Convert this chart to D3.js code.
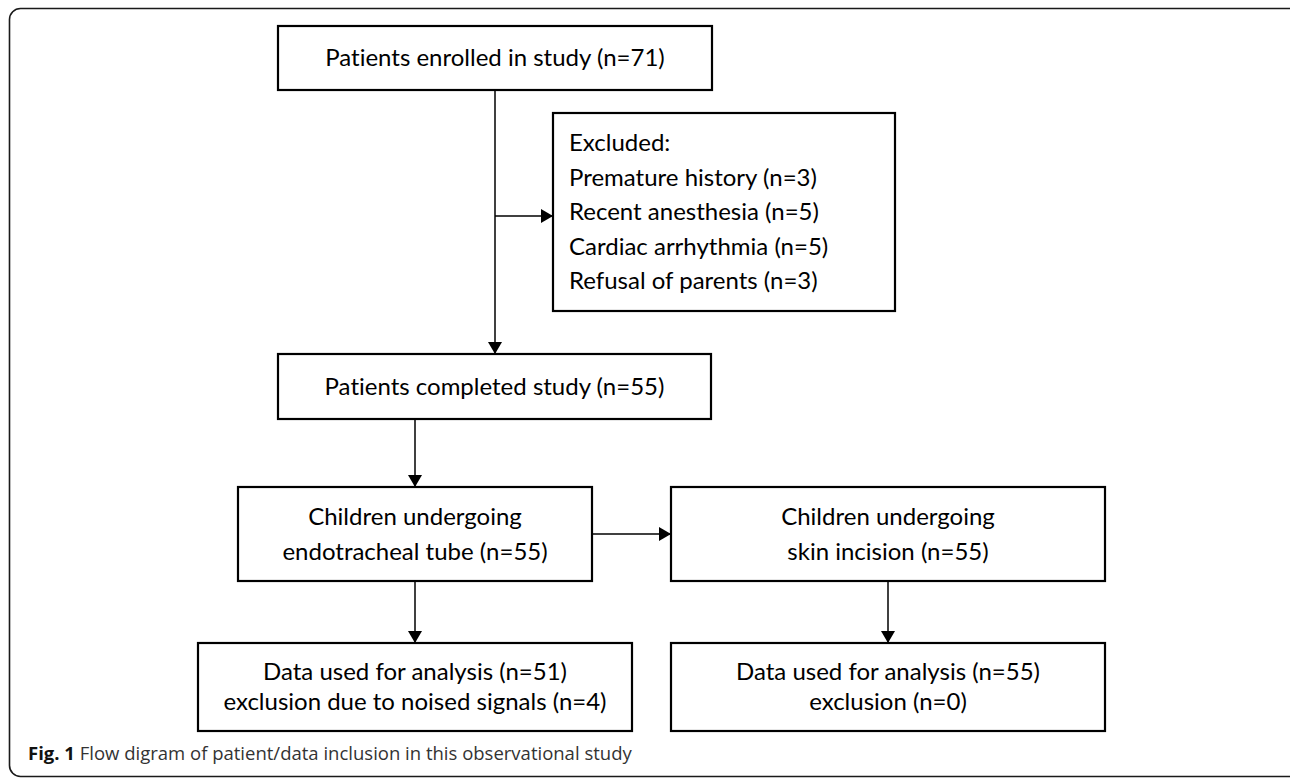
<!DOCTYPE html>
<html>
<head>
<meta charset="utf-8">
<script src="https://cdnjs.cloudflare.com/ajax/libs/d3/7.8.5/d3.min.js"></script>
<style>
  body { margin: 0; background: #fff; }
  #chart { width: 1290px; height: 778px; }
  text { font-variant-ligatures: none; }
</style>
</head>
<body>
<div id="chart"></div>
<script>
// values
const stageNames = [
  ['Patients enrolled in study'],
  ['Patients completed study'],
  ['Children undergoing', 'endotracheal tube'],
  ['Children undergoing', 'skin incision'],
  ['Data used for analysis'],
  ['Data used for analysis']
];
const stageCounts = [71, 55, 55, 55, 51, 55];
const exclusionReasons = ['Premature history', 'Recent anesthesia', 'Cardiac arrhythmia', 'Refusal of parents'];
const exclusionCounts = [3, 5, 5, 3];
const analysisDropNames = ['exclusion due to noised signals', 'exclusion'];
const analysisDropCounts = [4, 0];
const captionLabel = 'Fig. 1';
const captionText = 'Flow digram of patient/data inclusion in this observational study';

// box geometry (pixels)
const layout = {
  enrolled:  {x: 278, y: 26,  w: 434, h: 64},
  excluded:  {x: 553, y: 113, w: 342, h: 198},
  completed: {x: 278, y: 354, w: 433, h: 65},
  tube:      {x: 238, y: 487, w: 354, h: 94},
  skin:      {x: 671, y: 487, w: 434, h: 94},
  dataTube:  {x: 198, y: 643, w: 434, h: 88},
  dataSkin:  {x: 671, y: 643, w: 434, h: 88}
};

const n = c => '(n=' + c + ')';

let boxes = [
  {id: 'enrolled',  lines: [stageNames[0][0] + ' ' + n(stageCounts[0])]},
  {id: 'excluded',  align: 'left',
    lines: ['Excluded:'].concat(exclusionReasons.map((r, i) => r + ' ' + n(exclusionCounts[i])))},
  {id: 'completed', lines: [stageNames[1][0] + ' ' + n(stageCounts[1])]},
  {id: 'tube',      lines: [stageNames[2][0], stageNames[2][1] + ' ' + n(stageCounts[2])], lh: 35},
  {id: 'skin',      lines: [stageNames[3][0], stageNames[3][1] + ' ' + n(stageCounts[3])], lh: 35},
  {id: 'dataTube',  lines: [stageNames[4][0] + ' ' + n(stageCounts[4]), analysisDropNames[0] + ' ' + n(analysisDropCounts[0])], lh: 30},
  {id: 'dataSkin',  lines: [stageNames[5][0] + ' ' + n(stageCounts[5]), analysisDropNames[1] + ' ' + n(analysisDropCounts[1])], lh: 30}
];

let element = document.getElementById('chart');
let width = 1290, height = 778;

let svg = d3.select(element).append('svg')
  .attr('width', width)
  .attr('height', height);

svg.append('defs').append('marker')
  .attr('id', 'tip')
  .attr('markerUnits', 'userSpaceOnUse')
  .attr('viewBox', '0 0 12 14')
  .attr('refX', 12)
  .attr('refY', 7)
  .attr('markerWidth', 12)
  .attr('markerHeight', 14)
  .attr('orient', 'auto')
  .append('path')
    .attr('d', 'M0,0 L12,7 L0,14 Z')
    .attr('fill', '#000');

// outer frame, runs off the right edge
svg.append('rect')
  .attr('x', 9.5).attr('y', 8.5)
  .attr('width', 1300).attr('height', 768)
  .attr('rx', 11)
  .attr('fill', 'none')
  .attr('stroke', '#1a1a1a')
  .attr('stroke-width', 1.6);

let B = id => layout[id];
let cx = id => B(id).x + B(id).w / 2;
let cy = id => B(id).y + B(id).h / 2;
let bottom = id => B(id).y + B(id).h;
let right = id => B(id).x + B(id).w;

// connectors
let links = [
  [[cx('enrolled'), bottom('enrolled')], [cx('enrolled'), B('completed').y]],
  [[cx('enrolled'), cy('excluded') + 4], [B('excluded').x, cy('excluded') + 4]],
  [[cx('tube'), bottom('completed')], [cx('tube'), B('tube').y]],
  [[right('tube'), cy('tube')], [B('skin').x, cy('skin')]],
  [[cx('tube'), bottom('tube')], [cx('tube'), B('dataTube').y]],
  [[cx('dataSkin'), bottom('skin')], [cx('dataSkin'), B('dataSkin').y]]
];

svg.append('g')
  .attr('class', 'links')
  .selectAll('path')
  .data(links)
  .enter().append('path')
    .attr('d', d => d3.line()(d))
    .attr('stroke', '#000')
    .attr('stroke-width', 1.5)
    .attr('fill', 'none')
    .attr('marker-end', 'url(#tip)');

let g = svg.append('g').attr('class', 'boxes')
  .selectAll('g')
  .data(boxes)
  .enter().append('g');

g.append('rect')
  .attr('x', d => B(d.id).x)
  .attr('y', d => B(d.id).y)
  .attr('width', d => B(d.id).w)
  .attr('height', d => B(d.id).h)
  .attr('fill', '#fff')
  .attr('stroke', '#000')
  .attr('stroke-width', 2.2);

g.each(function(d) {
  let box = B(d.id);
  let sel = d3.select(this);
  if (d.align === 'left') {
    d.lines.forEach((t, i) => {
      sel.append('text')
        .attr('x', box.x + 16)
        .attr('y', box.y + 38 + i * 34.5)
        .text(t);
    });
  } else {
    let lh = d.lh || 0;
    d.lines.forEach((t, i) => {
      sel.append('text')
        .attr('x', box.x + box.w / 2)
        .attr('y', box.y + box.h / 2 + (i - (d.lines.length - 1) / 2) * lh)
        .attr('dy', '0.35em')
        .attr('text-anchor', 'middle')
        .text(t);
    });
  }
});

g.selectAll('text')
  .style('font-family', 'Lato, "Open Sans", sans-serif')
  .style('font-size', '24px')
  .style('fill', '#000');

// caption
let cap = svg.append('text')
  .attr('x', 28)
  .attr('y', 760)
  .style('font-family', '"Open Sans", "Noto Sans", sans-serif')
  .style('font-size', '18.5px');
cap.append('tspan')
  .style('font-weight', 'bold')
  .style('fill', '#111')
  .text(captionLabel);
cap.append('tspan')
  .style('fill', '#333')
  .text(' ' + captionText);
</script>
</body>
</html>
